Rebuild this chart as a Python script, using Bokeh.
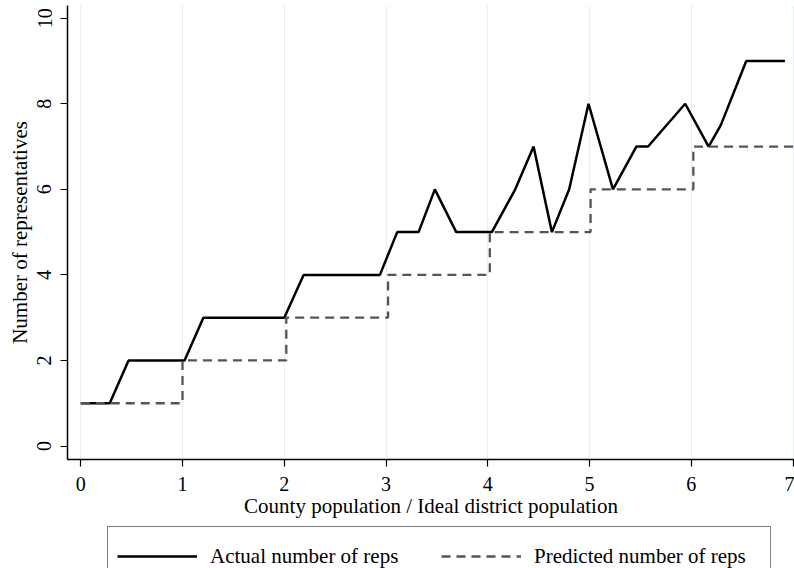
from bokeh.plotting import figure
from bokeh.layouts import column
from bokeh.models import Range1d, Legend, LegendItem, FixedTicker
from bokeh.embed import file_html
from bokeh.resources import INLINE

# Data
actual_x = [0.0, 0.285, 0.47, 1.02, 1.205, 2.0, 2.19, 2.94, 3.11, 3.32, 3.48, 3.69,
            4.04, 4.27, 4.45, 4.63, 4.80, 4.99, 5.23, 5.46, 5.575, 5.94, 6.17, 6.29,
            6.54, 6.92]
actual_y = [1, 1, 2, 2, 3, 3, 4, 4, 5, 5, 6, 5,
            5, 6, 7, 5, 6, 8, 6, 7, 7, 8, 7, 7.5,
            9, 9]
pred_x = [0.0, 1.0, 2.02, 3.02, 4.02, 5.01, 6.02, 7.0]
pred_y = [1, 2, 3, 4, 5, 6, 7, 7]

x_ticks = [0, 1, 2, 3, 4, 5, 6, 7]
y_ticks = [0, 2, 4, 6, 8, 10]

FONT = "Liberation Serif"
ACT_STYLE = dict(line_color="black", line_width=2.5)
PRED_STYLE = dict(line_color="#555555", line_width=2.3, line_dash="9 6")
NAN = float("nan")

p = figure(width=794, height=532, output_backend="svg", toolbar_location=None,
           x_range=Range1d(-0.13, 7.014), y_range=Range1d(-0.315, 10.297),
           min_border_left=67, min_border_right=0, min_border_top=5, min_border_bottom=73)
p.outline_line_color = None
p.background_fill_color = "white"

p.xgrid.ticker = FixedTicker(ticks=x_ticks)
p.xgrid.grid_line_color = "#e4edf0"
p.xgrid.grid_line_width = 1
p.ygrid.grid_line_color = None

p.xaxis.ticker = FixedTicker(ticks=x_ticks)
p.yaxis.ticker = FixedTicker(ticks=y_ticks)
for ax in (p.xaxis[0], p.yaxis[0]):
    ax.axis_line_color = "black"
    ax.axis_line_width = 1.5
    ax.major_tick_line_color = "black"
    ax.major_tick_line_width = 1.2
    ax.major_tick_out = 7
    ax.major_tick_in = 0
    ax.minor_tick_line_color = None
    ax.major_label_text_font = FONT
    ax.major_label_text_font_size = "20px"
    ax.major_label_text_color = "black"
    ax.axis_label_text_font = FONT
    ax.axis_label_text_font_size = "21px"
    ax.axis_label_text_font_style = "normal"
    ax.axis_label_text_color = "black"

p.xaxis.axis_label = "County population / Ideal district population"
p.xaxis.major_label_standoff = 10
p.xaxis.axis_label_standoff = 0
p.yaxis.axis_label = "Number of representatives"
p.yaxis.major_label_orientation = "vertical"
p.yaxis.major_label_standoff = 9
p.yaxis.axis_label_standoff = 3

p.line(actual_x, actual_y, **ACT_STYLE)
p.step(pred_x, pred_y, mode="after", **PRED_STYLE)

# Legend strip below the plot (its lower part falls below the window, as in the reference)
p2 = figure(width=794, height=58, output_backend="svg", toolbar_location=None,
            min_border=0, x_range=Range1d(0, 1), y_range=Range1d(0, 1),
            x_axis_location=None, y_axis_location=None)
p2.grid.visible = False
p2.outline_line_color = None
p2.margin = (-6, 0, 0, 0)
l_act = p2.line(x=[NAN], y=[NAN], **ACT_STYLE)
l_pred = p2.line(x=[NAN], y=[NAN], **PRED_STYLE)

legend = Legend(items=[LegendItem(label="Actual number of reps", renderers=[l_act]),
                       LegendItem(label="Predicted number of reps", renderers=[l_pred])],
                orientation="horizontal", location=(40, -2))
legend.label_text_font = FONT
legend.label_text_font_size = "21px"
legend.label_text_color = "black"
legend.glyph_width = 80
legend.glyph_height = 40
legend.label_height = 40
legend.label_standoff = 13
legend.label_width = 227
legend.spacing = 4
legend.padding = 9
legend.margin = 0
legend.border_line_color = "black"
legend.border_line_width = 1
legend.background_fill_alpha = 1
p2.add_layout(legend, "center")

layout = column(p, p2, spacing=0)
open("out.html", "w").write(file_html(layout, INLINE))
